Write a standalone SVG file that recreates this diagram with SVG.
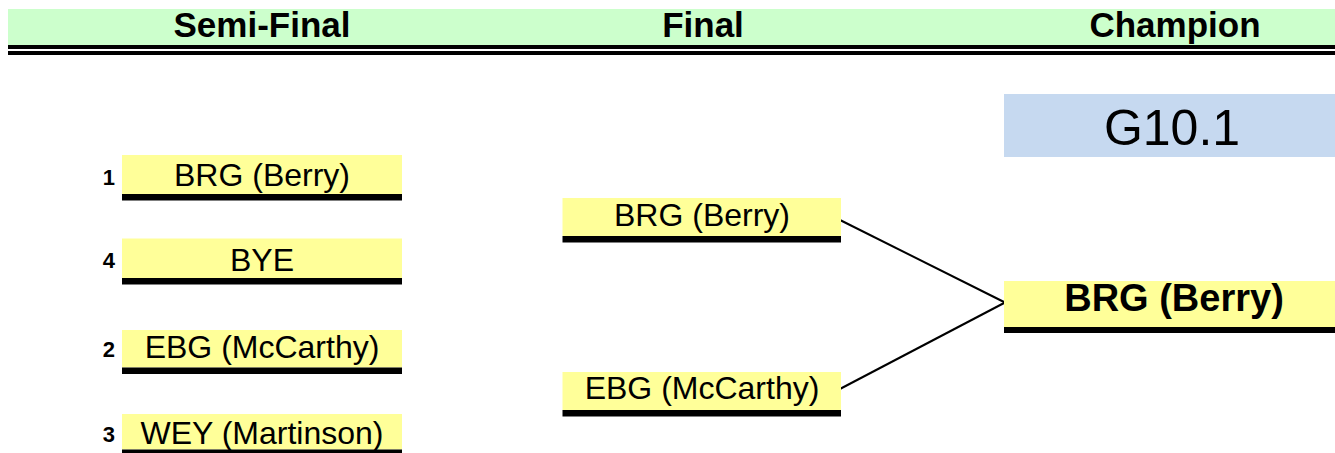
<svg xmlns="http://www.w3.org/2000/svg" width="1335" height="453" viewBox="0 0 1335 453">
<style>
.hdr{font-family:"Liberation Sans",Arial,sans-serif;font-weight:bold;font-size:35px;text-anchor:middle;fill:#000}
.t{font-family:"Liberation Sans",Arial,sans-serif;font-size:32px;text-anchor:middle;fill:#000}
.n{font-family:"Liberation Sans",Arial,sans-serif;font-weight:bold;font-size:22px;text-anchor:end;fill:#000}
.y{fill:#FFFF99}
.b{fill:#000}
.c{stroke:#000;stroke-width:2;fill:none}
</style>
<rect width="1335" height="453" fill="#fff"/>
<g id="header">
<rect x="8" y="9" width="1327" height="36" fill="#CCFFCC"/>
<rect x="8" y="45" width="1327" height="4" class="b"/>
<rect x="8" y="51" width="1327" height="4" class="b"/>
<text class="hdr" x="262" y="37">Semi-Final</text>
<text class="hdr" x="703" y="37">Final</text>
<text class="hdr" x="1175" y="37">Champion</text>
</g>
<g id="connectors">
<line class="c" x1="838" y1="219" x2="1005" y2="302.5"/>
<line class="c" x1="838" y1="390" x2="1005" y2="302.5"/>
</g>
<g id="semi1">
<rect class="y" x="122" y="155" width="280" height="39"/>
<rect class="b" x="122" y="194" width="280" height="6.5"/>
<text class="n" x="115" y="185">1</text>
<text class="t" x="262" y="186">BRG (Berry)</text>
</g>
<g id="semi4">
<rect class="y" x="122" y="238.5" width="280" height="39.5"/>
<rect class="b" x="122" y="278" width="280" height="6.5"/>
<text class="n" x="115" y="268">4</text>
<text class="t" x="262" y="270.5">BYE</text>
</g>
<g id="semi2">
<rect class="y" x="122" y="330" width="280" height="37.5"/>
<rect class="b" x="122" y="367.5" width="280" height="6.5"/>
<text class="n" x="115" y="357">2</text>
<text class="t" x="262" y="358">EBG (McCarthy)</text>
</g>
<g id="semi3">
<rect class="y" x="122" y="414" width="280" height="35.5"/>
<rect class="b" x="122" y="449.5" width="280" height="6.5"/>
<text class="n" x="115" y="442">3</text>
<text class="t" x="262" y="444">WEY (Martinson)</text>
</g>
<g id="final1">
<rect class="y" x="562.5" y="198" width="278.5" height="38"/>
<rect class="b" x="562.5" y="236" width="278.5" height="6.5"/>
<text class="t" x="702" y="226">BRG (Berry)</text>
</g>
<g id="final2">
<rect class="y" x="562.5" y="372" width="278.5" height="38"/>
<rect class="b" x="562.5" y="410" width="278.5" height="6.5"/>
<text class="t" x="702" y="399">EBG (McCarthy)</text>
</g>
<g id="game">
<rect x="1004" y="94" width="331" height="63" fill="#C6D9F0"/>
<text x="1172" y="145" font-family="'Liberation Sans',Arial,sans-serif" font-size="50" text-anchor="middle" fill="#000">G10.1</text>
</g>
<g id="champion">
<rect class="y" x="1004" y="281" width="331" height="46"/>
<rect class="b" x="1004" y="327" width="331" height="6"/>
<text x="1174" y="311" font-family="'Liberation Sans',Arial,sans-serif" font-size="38" font-weight="bold" text-anchor="middle" fill="#000">BRG (Berry)</text>
</g>
</svg>
